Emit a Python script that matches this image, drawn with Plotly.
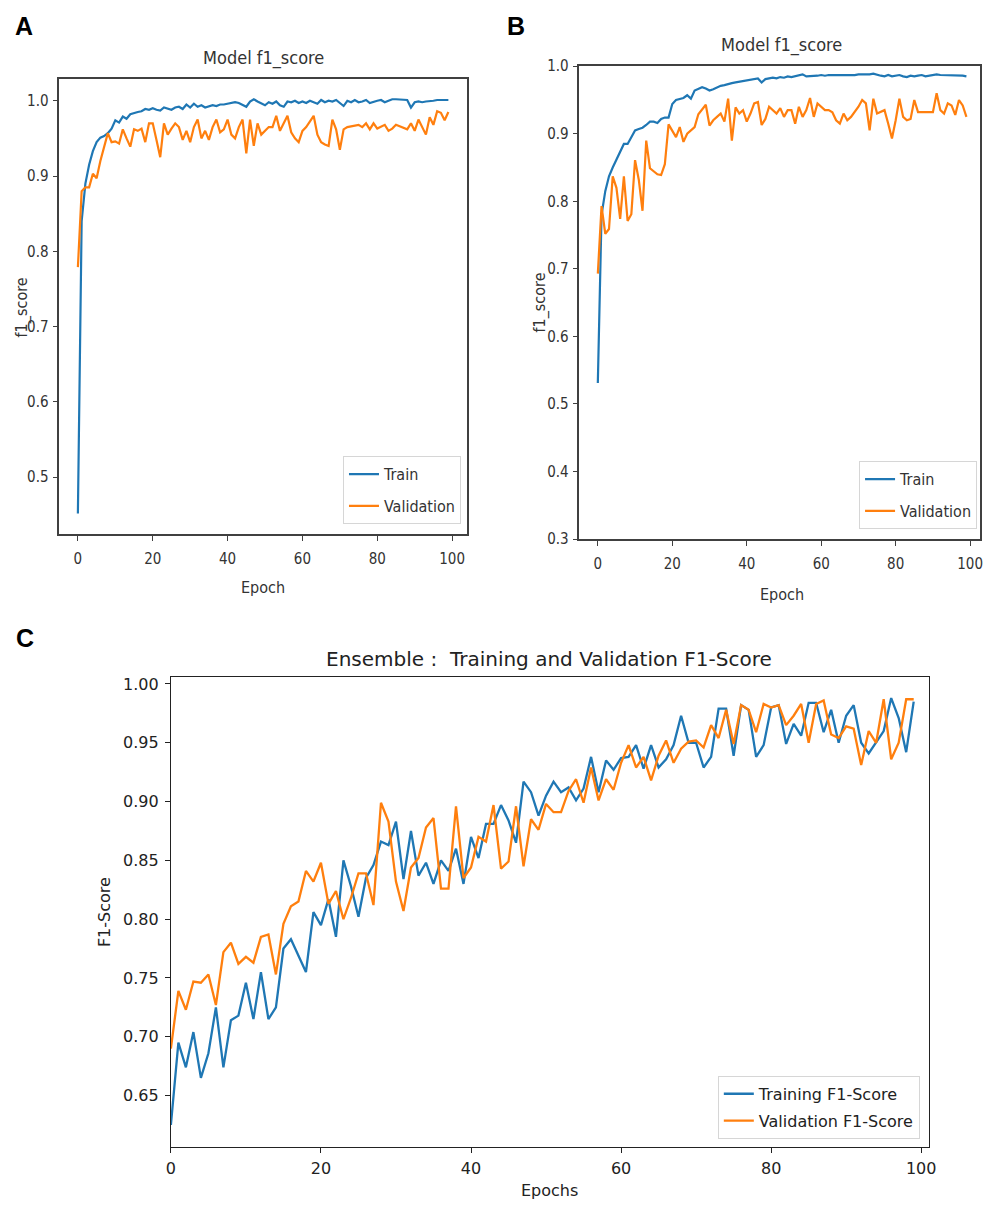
import plotly.graph_objects as go

# ---------------- data ----------------
epochs = list(range(100))

a_train = [0.452, 0.840, 0.890, 0.915, 0.933, 0.945, 0.951, 0.953, 0.957, 0.963,
           0.974, 0.971, 0.979, 0.976, 0.982, 0.984, 0.985, 0.986, 0.989, 0.988,
           0.990, 0.988, 0.987, 0.991, 0.990, 0.988, 0.991, 0.992, 0.989, 0.995,
           0.991, 0.996, 0.992, 0.994, 0.991, 0.993, 0.994, 0.993, 0.995, 0.995,
           0.996, 0.997, 0.998, 0.997, 0.995, 0.992, 0.999, 1.002, 0.999, 0.996,
           0.994, 0.998, 0.996, 0.999, 0.994, 0.992, 0.999, 0.998, 1.000, 0.997,
           0.999, 0.997, 1.000, 0.998, 0.996, 1.001, 0.998, 1.000, 0.999, 1.001,
           0.997, 0.993, 1.000, 0.998, 1.001, 0.998, 0.999, 1.001, 0.997, 0.999,
           1.000, 1.001, 0.998, 1.000, 1.002, 1.002, 1.002, 1.002, 1.001, 0.991,
           0.998, 0.999, 0.998, 0.999, 0.999, 1.000, 1.001, 1.001, 1.001, 1.001]

a_val = [0.779, 0.880, 0.885, 0.885, 0.903, 0.897, 0.920, 0.940, 0.957, 0.945,
         0.946, 0.943, 0.962, 0.950, 0.939, 0.962, 0.960, 0.963, 0.945, 0.970,
         0.970, 0.948, 0.925, 0.970, 0.955, 0.963, 0.970, 0.965, 0.948, 0.960,
         0.945, 0.965, 0.975, 0.950, 0.960, 0.948, 0.965, 0.975, 0.958, 0.962,
         0.975, 0.955, 0.950, 0.965, 0.975, 0.930, 0.975, 0.940, 0.970, 0.955,
         0.960, 0.965, 0.965, 0.980, 0.960, 0.970, 0.980, 0.958, 0.950, 0.945,
         0.960, 0.965, 0.972, 0.980, 0.955, 0.945, 0.942, 0.940, 0.975, 0.962,
         0.935, 0.962, 0.965, 0.966, 0.966, 0.968, 0.965, 0.970, 0.962, 0.970,
         0.963, 0.966, 0.968, 0.960, 0.963, 0.968, 0.966, 0.965, 0.962, 0.970,
         0.960, 0.975, 0.965, 0.955, 0.978, 0.968, 0.986, 0.984, 0.974, 0.985]

b_train = [0.531, 0.780, 0.815, 0.837, 0.850, 0.862, 0.873, 0.885, 0.885, 0.895,
           0.905, 0.907, 0.909, 0.913, 0.918, 0.918, 0.916, 0.922, 0.924, 0.924,
           0.944, 0.950, 0.952, 0.953, 0.957, 0.952, 0.964, 0.967, 0.969, 0.967,
           0.964, 0.966, 0.969, 0.971, 0.972, 0.974, 0.975, 0.976, 0.977, 0.978,
           0.979, 0.979, 0.980, 0.982, 0.976, 0.981, 0.982, 0.983, 0.982, 0.984,
           0.983, 0.985, 0.984, 0.985, 0.987, 0.988, 0.985, 0.985, 0.986, 0.986,
           0.987, 0.986, 0.987, 0.987, 0.986, 0.987, 0.987, 0.986, 0.986, 0.987,
           0.988, 0.988, 0.987, 0.988, 0.989, 0.987, 0.986, 0.985, 0.987, 0.985,
           0.986, 0.987, 0.985, 0.984, 0.986, 0.985, 0.986, 0.987, 0.985, 0.986,
           0.986, 0.988, 0.987, 0.987, 0.986, 0.986, 0.987, 0.986, 0.986, 0.985]

b_val = [0.693, 0.793, 0.752, 0.759, 0.837, 0.820, 0.774, 0.837, 0.771, 0.781,
         0.861, 0.832, 0.786, 0.890, 0.849, 0.845, 0.840, 0.839, 0.855, 0.914,
         0.905, 0.895, 0.910, 0.888, 0.900, 0.905, 0.910, 0.929, 0.936, 0.943,
         0.912, 0.920, 0.925, 0.930, 0.918, 0.952, 0.890, 0.939, 0.930, 0.935,
         0.918, 0.930, 0.945, 0.947, 0.913, 0.922, 0.940, 0.935, 0.930, 0.938,
         0.925, 0.935, 0.935, 0.915, 0.940, 0.925, 0.935, 0.953, 0.925, 0.945,
         0.940, 0.935, 0.935, 0.932, 0.920, 0.915, 0.930, 0.920, 0.925, 0.933,
         0.940, 0.950, 0.945, 0.905, 0.952, 0.930, 0.932, 0.935, 0.915, 0.893,
         0.920, 0.952, 0.925, 0.920, 0.922, 0.950, 0.932, 0.932, 0.932, 0.932,
         0.932, 0.960, 0.935, 0.930, 0.945, 0.942, 0.928, 0.950, 0.942, 0.925]

c_train = [0.625, 0.695, 0.674, 0.704, 0.665, 0.686, 0.725, 0.674, 0.714, 0.718,
           0.746, 0.715, 0.755, 0.715, 0.725, 0.775, 0.783, 0.769, 0.755, 0.806,
           0.795, 0.817, 0.785, 0.850, 0.828, 0.802, 0.835, 0.846, 0.866, 0.863,
           0.883, 0.834, 0.875, 0.837, 0.848, 0.830, 0.850, 0.841, 0.860, 0.830,
           0.870, 0.852, 0.881, 0.881, 0.897, 0.884, 0.865, 0.917, 0.908, 0.888,
           0.905, 0.917, 0.908, 0.912, 0.901, 0.911, 0.938, 0.908, 0.935, 0.927,
           0.937, 0.938, 0.948, 0.928, 0.948, 0.929, 0.936, 0.948, 0.973, 0.950,
           0.950, 0.929, 0.938, 0.979, 0.979, 0.939, 0.982, 0.978, 0.938, 0.948,
           0.980, 0.982, 0.949, 0.966, 0.956, 0.984, 0.984, 0.959, 0.978, 0.950,
           0.973, 0.982, 0.950, 0.941, 0.951, 0.960, 0.988, 0.971, 0.942, 0.985]

c_val = [0.690, 0.739, 0.723, 0.747, 0.746, 0.753, 0.727, 0.772, 0.780, 0.762,
         0.768, 0.763, 0.785, 0.787, 0.753, 0.796, 0.811, 0.815, 0.841, 0.832,
         0.848, 0.813, 0.824, 0.800, 0.818, 0.839, 0.839, 0.812, 0.899, 0.883,
         0.832, 0.807, 0.844, 0.852, 0.878, 0.886, 0.826, 0.826, 0.896, 0.835,
         0.844, 0.870, 0.866, 0.897, 0.843, 0.849, 0.896, 0.845, 0.885, 0.876,
         0.898, 0.891, 0.891, 0.909, 0.919, 0.899, 0.929, 0.901, 0.919, 0.910,
         0.933, 0.948, 0.929, 0.938, 0.918, 0.939, 0.952, 0.933, 0.945, 0.951,
         0.952, 0.946, 0.965, 0.954, 0.978, 0.949, 0.982, 0.978, 0.959, 0.983,
         0.980, 0.982, 0.965, 0.973, 0.983, 0.950, 0.983, 0.986, 0.957, 0.954,
         0.964, 0.962, 0.931, 0.960, 0.950, 0.987, 0.936, 0.950, 0.987, 0.987]

x_ticks = [0, 20, 40, 60, 80, 100]
a_yticks = [0.5, 0.6, 0.7, 0.8, 0.9, 1.0]
b_yticks = [0.3, 0.4, 0.5, 0.6, 0.7, 0.8, 0.9, 1.0]
c_yticks = [0.65, 0.70, 0.75, 0.80, 0.85, 0.90, 0.95, 1.00]

# ---------------- style ----------------
# The page body keeps the browser's default 8px margin, so the figure is sized
# to fill the 997x1212 window exactly together with that margin.
PAGE_W, PAGE_H = 997, 1212
OFF = 8
W, H = PAGE_W - 2 * OFF, PAGE_H - 2 * OFF
BLUE = "#1f77b4"
ORANGE = "#ff7f0e"
AB_FONT = "DejaVu Sans Condensed, Liberation Sans Narrow, DejaVu Sans"
C_FONT = "DejaVu Sans"
LBL_FONT = "Liberation Sans, Arial, sans-serif"
AB_TXT = "#333333"
C_TXT = "#222222"


def px_x(x):
    """page pixel x -> paper fraction"""
    return min(1.0, max(0.0, (x - OFF) / W))


def px_y(y):
    """page pixel y -> paper fraction"""
    return min(1.0, max(0.0, 1 - (y - OFF) / H))


fig = go.Figure()

fig.add_trace(go.Scatter(x=epochs, y=a_train, mode="lines", name="Train",
                         line=dict(color=BLUE, width=2.2), xaxis="x", yaxis="y",
                         legend="legend", legendgroup="a1"))
fig.add_trace(go.Scatter(x=epochs, y=a_val, mode="lines", name="Validation",
                         line=dict(color=ORANGE, width=2.2), xaxis="x", yaxis="y",
                         legend="legend", legendgroup="a2"))
fig.add_trace(go.Scatter(x=epochs, y=b_train, mode="lines", name="Train",
                         line=dict(color=BLUE, width=2.2), xaxis="x2", yaxis="y2",
                         legend="legend2", legendgroup="b1"))
fig.add_trace(go.Scatter(x=epochs, y=b_val, mode="lines", name="Validation",
                         line=dict(color=ORANGE, width=2.2), xaxis="x2", yaxis="y2",
                         legend="legend2", legendgroup="b2"))
fig.add_trace(go.Scatter(x=epochs, y=c_train, mode="lines", name="Training F1-Score",
                         line=dict(color=BLUE, width=2.3), xaxis="x3", yaxis="y3",
                         legend="legend3", legendgroup="c1"))
fig.add_trace(go.Scatter(x=epochs, y=c_val, mode="lines", name="Validation F1-Score",
                         line=dict(color=ORANGE, width=2.3), xaxis="x3", yaxis="y3",
                         legend="legend3", legendgroup="c2"))

ab_axis = dict(showgrid=False, zeroline=False, showline=True, mirror=True,
               linecolor="#404040", linewidth=1.6, ticks="outside", ticklen=5,
               tickwidth=1.3, tickcolor="#404040",
               tickfont=dict(family=AB_FONT, size=15, color=AB_TXT))
c_axis = dict(showgrid=False, zeroline=False, showline=True, mirror=True,
              linecolor="#222222", linewidth=1.2, ticks="outside", ticklen=5,
              tickwidth=1, tickcolor="#222222",
              tickfont=dict(family=C_FONT, size=16, color=C_TXT))

legend_common = dict(bgcolor="rgba(255,255,255,0.85)", bordercolor="#d6d6d6",
                     borderwidth=1, traceorder="grouped", xanchor="right",
                     yanchor="bottom")

fig.update_layout(
    width=W, height=H, margin=dict(l=0, r=0, t=0, b=0),
    paper_bgcolor="white", plot_bgcolor="white", showlegend=True,
    xaxis=dict(ab_axis, domain=[px_x(55), px_x(468)], range=[-4.95, 103.95],
               tickvals=x_ticks, anchor="y", ticklabelstandoff=5),
    yaxis=dict(ab_axis, domain=[px_y(533), px_y(71)], range=[0.4245, 1.0288],
               tickvals=a_yticks, tickformat=".1f", anchor="x", ticklabelstandoff=1),
    xaxis2=dict(ab_axis, domain=[px_x(582), px_x(988)], range=[-4.95, 102.65],
                tickvals=x_ticks, anchor="y2", ticklabelstandoff=5),
    yaxis2=dict(ab_axis, domain=[px_y(538), px_y(58)], range=[0.3, 1.0],
                tickvals=b_yticks, tickformat=".1f", anchor="x2", ticklabelstandoff=1),
    xaxis3=dict(c_axis, domain=[px_x(168), px_x(936)], range=[0, 101],
                tickvals=x_ticks, anchor="y3", ticklabelstandoff=2),
    yaxis3=dict(c_axis, domain=[px_y(1155), px_y(678)], range=[0.6065, 1.006],
                tickvals=c_yticks, tickformat=".2f", anchor="x3", ticklabelstandoff=3),
    legend=dict(legend_common, x=px_x(462), y=px_y(523), tracegroupgap=8,
                font=dict(family=AB_FONT, size=16, color=AB_TXT)),
    legend2=dict(legend_common, x=px_x(985), y=px_y(528), tracegroupgap=8,
                 font=dict(family=AB_FONT, size=16, color=AB_TXT)),
    legend3=dict(legend_common, x=px_x(927), y=px_y(1147), tracegroupgap=3,
                 font=dict(family=C_FONT, size=16, color=C_TXT)),
)

annotations = [
    # panel letters
    dict(text="<b>A</b>", x=px_x(8), y=px_y(17), xanchor="left", yanchor="middle",
         font=dict(family=LBL_FONT, size=25, color="black")),
    dict(text="<b>B</b>", x=px_x(507), y=px_y(17), xanchor="left", yanchor="middle",
         font=dict(family=LBL_FONT, size=25, color="black")),
    dict(text="<b>C</b>", x=px_x(9), y=px_y(638), xanchor="left", yanchor="middle",
         font=dict(family=LBL_FONT, size=25, color="black")),
    # titles
    dict(text="Model f1_score", x=px_x(262), y=px_y(50), xanchor="center", yanchor="middle",
         font=dict(family=AB_FONT, size=18, color=AB_TXT)),
    dict(text="Model f1_score", x=px_x(787), y=px_y(36), xanchor="center", yanchor="middle",
         font=dict(family=AB_FONT, size=18, color=AB_TXT)),
    dict(text="Ensemble :  Training and Validation F1-Score", x=px_x(551), y=px_y(660),
         xanchor="center", yanchor="middle",
         font=dict(family=C_FONT, size=20, color=C_TXT)),
    # axis labels
    dict(text="Epoch", x=px_x(261), y=px_y(587), xanchor="center", yanchor="middle",
         font=dict(family=AB_FONT, size=16, color=AB_TXT)),
    dict(text="Epoch", x=px_x(787), y=px_y(594), xanchor="center", yanchor="middle",
         font=dict(family=AB_FONT, size=16, color=AB_TXT)),
    dict(text="Epochs", x=px_x(552), y=px_y(1199), xanchor="center", yanchor="middle",
         font=dict(family=C_FONT, size=16, color=C_TXT)),
    dict(text="f1_score", x=px_x(17), y=px_y(303), xanchor="center", yanchor="middle",
         textangle=-90, font=dict(family=AB_FONT, size=16, color=AB_TXT)),
    dict(text="f1_score", x=px_x(542), y=px_y(298), xanchor="center", yanchor="middle",
         textangle=-90, font=dict(family=AB_FONT, size=16, color=AB_TXT)),
    dict(text="F1-Score", x=px_x(101), y=px_y(917), xanchor="center", yanchor="middle",
         textangle=-90, font=dict(family=C_FONT, size=16, color=C_TXT)),
]
for a in annotations:
    a.update(xref="paper", yref="paper", showarrow=False)
fig.update_layout(annotations=annotations)

fig.write_html("out.html", config={"displayModeBar": False})
